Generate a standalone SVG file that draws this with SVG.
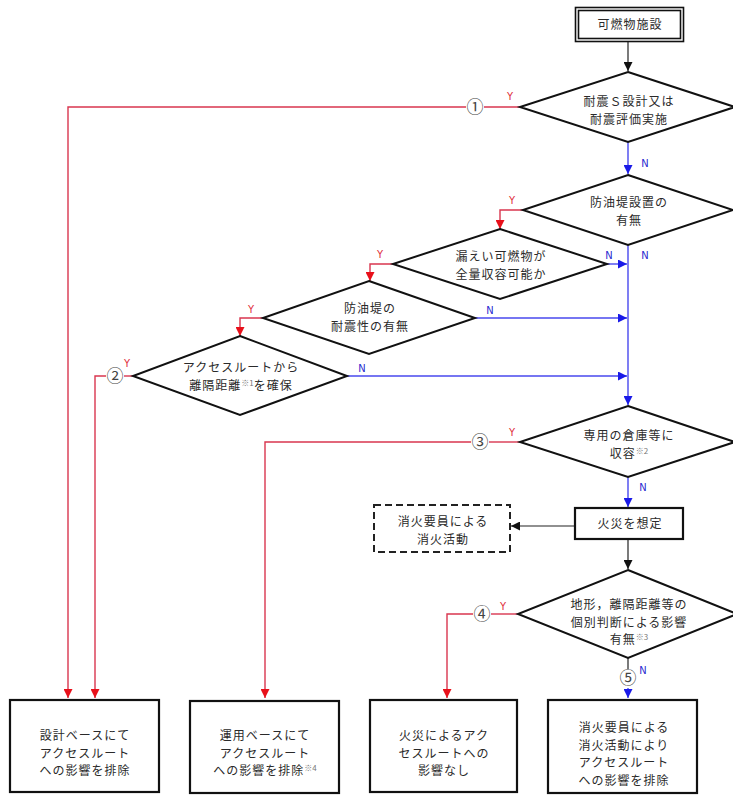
<svg xmlns="http://www.w3.org/2000/svg" width="733" height="795" viewBox="0 0 733 795">
<defs>
<style>
.t{font-family:"Noto Sans CJK JP","Noto Sans",sans-serif;font-size:12px;letter-spacing:1px;fill:#2a2a2a;text-anchor:middle}
.sup{font-size:8px;letter-spacing:0;fill:#777}
.box{fill:#fff;stroke:#111;stroke-width:2.2}
.dia{fill:#fff;stroke:#111;stroke-width:2}
.red{fill:none;stroke:#d9364f;stroke-width:1.4}
.blue{fill:none;stroke:#4848ee;stroke-width:1.4}
.blk{fill:none;stroke:#222;stroke-width:1.2}
.yl{font-family:"DejaVu Sans Condensed","Liberation Sans",sans-serif;font-size:11px;fill:#e0303a;text-anchor:middle}
.nl{font-family:"DejaVu Sans Condensed","Liberation Sans",sans-serif;font-size:11px;fill:#2a2ad0;text-anchor:middle}
.cn{font-family:"Noto Sans CJK JP","DejaVu Sans",sans-serif;font-size:17px;fill:#444;text-anchor:middle}
</style>
<marker id="ar" viewBox="0 0 10 10" refX="10" refY="5" markerWidth="9" markerHeight="9" markerUnits="userSpaceOnUse" orient="auto"><path d="M0,0 L10,5 L0,10 z" fill="#e8101a"/></marker>
<marker id="ab" viewBox="0 0 10 10" refX="10" refY="5" markerWidth="9" markerHeight="9" markerUnits="userSpaceOnUse" orient="auto"><path d="M0,0 L10,5 L0,10 z" fill="#1a1ae8"/></marker>
<marker id="ak" viewBox="0 0 10 10" refX="10" refY="5" markerWidth="9" markerHeight="9" markerUnits="userSpaceOnUse" orient="auto"><path d="M0,0 L10,5 L0,10 z" fill="#111"/></marker>
</defs>
<rect width="733" height="795" fill="#fff"/>

<g id="connectors">
<path class="blk" d="M628,42 V71" marker-end="url(#ak)"/>
<path class="blk" d="M628,539 V569" marker-end="url(#ak)"/>
<path class="blk" d="M575,526 H511" marker-end="url(#ak)"/>

<path class="blue" d="M628,142 V174" marker-end="url(#ab)"/>
<path class="blue" d="M628,245 V405" marker-end="url(#ab)"/>
<path class="blue" d="M607,264 H627" marker-end="url(#ab)"/>
<path class="blue" d="M475,318 H627" marker-end="url(#ab)"/>
<path class="blue" d="M347,376 H627" marker-end="url(#ab)"/>
<path class="blue" d="M628,477 V507" marker-end="url(#ab)"/>
<path class="blk" d="M628,658 V669"/>
<path class="blue" d="M628,688 V698" marker-end="url(#ab)"/>

<path class="red" d="M520,107 H484"/>
<path class="red" d="M466,107 H68 V698" marker-end="url(#ar)"/>
<path class="red" d="M523,210 H500 V229" marker-end="url(#ar)"/>
<path class="red" d="M393,264 H370 V281" marker-end="url(#ar)"/>
<path class="red" d="M263,318 H240 V336" marker-end="url(#ar)"/>
<path class="red" d="M133,376 H124"/>
<path class="red" d="M106,376 H95 V698" marker-end="url(#ar)"/>
<path class="red" d="M520,442 H489"/>
<path class="red" d="M471,442 H265 V698" marker-end="url(#ar)"/>
<path class="red" d="M518,614 H491"/>
<path class="red" d="M473,614 H447 V698" marker-end="url(#ar)"/>

<text class="cn" x="475" y="113">①</text>
<text class="cn" x="115" y="382">②</text>
<text class="cn" x="480" y="448">③</text>
<text class="cn" x="482" y="620">④</text>
<text class="cn" x="628" y="684">⑤</text>

<text class="yl" x="510" y="100">Y</text>
<text class="yl" x="512" y="204">Y</text>
<text class="yl" x="380" y="258">Y</text>
<text class="yl" x="251" y="313">Y</text>
<text class="yl" x="127" y="367">Y</text>
<text class="yl" x="512" y="436">Y</text>
<text class="yl" x="503" y="610">Y</text>

<text class="nl" x="645" y="167">N</text>
<text class="nl" x="645" y="259">N</text>
<text class="nl" x="609" y="259">N</text>
<text class="nl" x="490" y="314">N</text>
<text class="nl" x="362" y="372">N</text>
<text class="nl" x="643" y="491">N</text>
<text class="nl" x="643" y="674">N</text>
</g>

<g id="start">
<rect x="575.5" y="7.5" width="108" height="34" fill="#fff" stroke="#111" stroke-width="1.6"/>
<rect x="578.5" y="10.5" width="102" height="28" fill="none" stroke="#111" stroke-width="1.6"/>
<text class="t" x="630" y="29">可燃物施設</text>
</g>

<g id="d1">
<polygon class="dia" points="628,72 735,107 628,142 520,107"/>
<text class="t" x="629" y="106">耐震Ｓ設計又は<tspan x="629" dy="17.5">耐震評価実施</tspan></text>
</g>

<g id="d2">
<polygon class="dia" points="628,175 733,210 628,245 523,210"/>
<text class="t" x="629" y="207">防油堤設置の<tspan x="629" dy="17.5">有無</tspan></text>
</g>

<g id="d3">
<polygon class="dia" points="500,229 607,264 500,299 393,264"/>
<text class="t" x="501" y="261">漏えい可燃物が<tspan x="501" dy="17.5">全量収容可能か</tspan></text>
</g>

<g id="d4">
<polygon class="dia" points="369,281 475,318 369,354 263,318"/>
<text class="t" x="370" y="313">防油堤の<tspan x="370" dy="17.5">耐震性の有無</tspan></text>
</g>

<g id="d5">
<polygon class="dia" points="240,336 347,376 240,415 133,376"/>
<text class="t" x="241" y="372">アクセスルートから<tspan x="241" dy="17.5">離隔距離</tspan><tspan class="sup" dy="-4">※1</tspan><tspan dy="4">を確保</tspan></text>
</g>

<g id="d7">
<polygon class="dia" points="628,406 735,442 628,477 520,442"/>
<text class="t" x="629" y="440">専用の倉庫等に<tspan x="629" dy="17.5">収容</tspan><tspan class="sup" dy="-4">※2</tspan></text>
</g>

<g id="fire">
<rect class="box" x="575" y="508" width="108" height="31"/>
<text class="t" x="630" y="528">火災を想定</text>
</g>

<g id="firefighting">
<rect x="374" y="505" width="136" height="47" fill="#fff" stroke="#222" stroke-width="2" stroke-dasharray="7,4"/>
<text class="t" x="443" y="526">消火要員による<tspan x="443" dy="17.5">消火活動</tspan></text>
</g>

<g id="d6">
<polygon class="dia" points="628,570 737,614 628,658 518,614"/>
<text class="t" x="629" y="609">地形，離隔距離等の<tspan x="629" dy="17.5">個別判断による影響</tspan><tspan x="629" dy="17.5">有無</tspan><tspan class="sup" dy="-4">※3</tspan></text>
</g>

<g id="r1">
<rect class="box" x="10" y="700" width="149" height="92"/>
<text class="t" x="85" y="740">設計ベースにて<tspan x="85" dy="17.5">アクセスルート</tspan><tspan x="85" dy="17.5">への影響を排除</tspan></text>
</g>

<g id="r2">
<rect class="box" x="190" y="701" width="149" height="92"/>
<text class="t" x="265" y="740">運用ベースにて<tspan x="265" dy="17.5">アクセスルート</tspan><tspan x="265" dy="17.5">への影響を排除</tspan><tspan class="sup" dy="-4">※4</tspan></text>
</g>

<g id="r3">
<rect class="box" x="370" y="700" width="147" height="92"/>
<text class="t" x="444" y="740">火災によるアク<tspan x="444" dy="17.5">セスルートへの</tspan><tspan x="444" dy="17.5">影響なし</tspan></text>
</g>

<g id="r4">
<rect class="box" x="548" y="700" width="149" height="93"/>
<text class="t" x="624" y="732">消火要員による<tspan x="624" dy="17.5">消火活動により</tspan><tspan x="624" dy="17.5">アクセスルート</tspan><tspan x="624" dy="17.5">への影響を排除</tspan></text>
</g>
</svg>
